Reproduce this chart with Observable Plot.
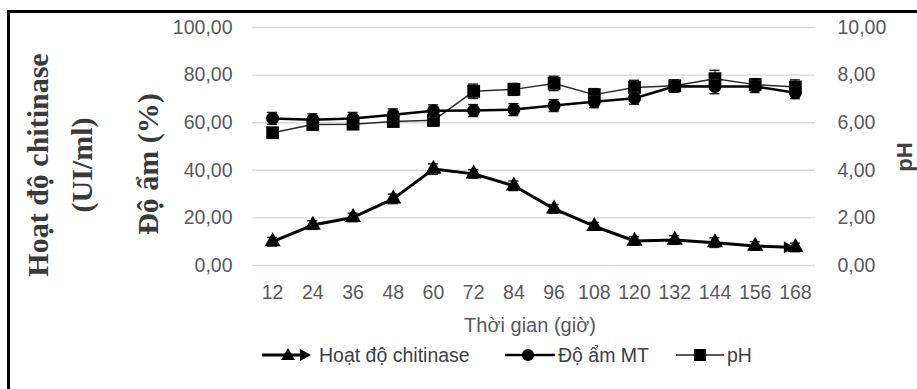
<!DOCTYPE html>
<html><head><meta charset="utf-8">
<script src="https://cdn.jsdelivr.net/npm/d3@7"></script>
<script src="https://cdn.jsdelivr.net/npm/@observablehq/plot@0.6"></script>
<style>
html,body{margin:0;padding:0;background:#fff;}
#wrap{position:relative;width:917px;height:389px;overflow:hidden;background:#fff;font-family:"Liberation Sans",Arial,sans-serif;}
#frame{position:absolute;left:7px;top:10px;width:1000px;height:1000px;border-left:3px solid #000;border-top:3px solid #000;}
.rot{position:absolute;white-space:nowrap;transform:translate(-50%,-50%) rotate(-90deg);}
.ttl{font-family:"Liberation Serif","Times New Roman",serif;font-weight:bold;font-size:30px;color:#3a3a3a;}
#xt{position:absolute;left:530px;top:325px;transform:translate(-50%,-50%);font-size:20px;color:#595959;white-space:nowrap;}
.leg{position:absolute;top:355px;transform:translateY(-50%);font-size:19.5px;color:#404040;white-space:nowrap;}
#plot{position:absolute;left:0;top:0;}
</style></head>
<body>
<div id="wrap">
  <div id="frame"></div>
  <div id="plot"></div>
  <div class="rot ttl" style="left:38px;top:165px;">Hoạt độ chitinase</div>
  <div class="rot ttl" style="left:82px;top:165px;">(UI/ml)</div>
  <div class="rot ttl" style="left:148px;top:164px;">Độ ẩm (%)</div>
  <div class="rot" style="left:905px;top:157px;font-weight:bold;font-size:22px;color:#404040;">pH</div>
  <div id="xt">Thời gian (giờ)</div>
  <svg id="legsw" width="917" height="389" style="position:absolute;left:0;top:0;pointer-events:none">
    <line x1="262" x2="302" y1="355" y2="355" stroke="#000" stroke-width="3"/>
    <path d="M288,348 L295,360 L281,360 Z" fill="#000"/>
    <path d="M300,349 L311,355 L300,361 Z" fill="#000"/>
    <line x1="505" x2="555" y1="355" y2="355" stroke="#000" stroke-width="2.5"/>
    <circle cx="528" cy="355" r="6" fill="#000"/>
    <line x1="676" x2="724" y1="355" y2="355" stroke="#222" stroke-width="1.5"/>
    <rect x="694" y="349" width="12" height="12" fill="#000"/>
  </svg>
  <div class="leg" style="left:319px;">Hoạt độ chitinase</div>
  <div class="leg" style="left:558px;">Độ ẩm MT</div>
  <div class="leg" style="left:727px;">pH</div>
</div>
<script>
const hours = [12,24,36,48,60,72,84,96,108,120,132,144,156,168];
const chitinase = [10.0,17.0,20.2,28.0,40.5,38.5,33.5,23.8,16.5,10.3,10.7,9.6,8.2,7.6];
const chitinaseErr = [1.8,1.8,1.8,2.0,2.2,1.8,2.0,1.8,1.6,1.8,1.8,2.0,1.8,1.8];
const moisture = [61.8,61.2,61.8,63.3,65.0,65.1,65.5,67.2,68.8,70.3,75.3,75.2,75.2,72.6];
const moistureErr = [2.5,2.5,2.5,2.5,2.5,2.5,2.5,2.5,2.5,2.5,2.5,3.0,2.5,2.5];
const pH = [5.58,5.92,5.94,6.05,6.10,7.32,7.40,7.65,7.18,7.48,7.55,7.85,7.60,7.50];
const pHErr = [0.20,0.20,0.22,0.22,0.25,0.30,0.25,0.30,0.25,0.30,0.25,0.35,0.25,0.30];
const leftTicks = [0,20,40,60,80,100];
const rightTicks = [0,2,4,6,8,10];

const fmt = v => v.toFixed(2).replace(".", ",");
const rows = hours.map((h,i) => ({
  h, c: chitinase[i], ce: chitinaseErr[i],
  m: moisture[i], me: moistureErr[i],
  p: pH[i] * 10, pe: pHErr[i] * 10
}));
const cap = 1.5;

function series(yk, ek, opts) {
  return [
    Plot.ruleX(rows, {x: "h", y1: d => d[yk] - d[ek], y2: d => d[yk] + d[ek], stroke: "#222", strokeWidth: 1.3}),
    Plot.ruleY(rows, {x1: d => d.h - cap, x2: d => d.h + cap, y: d => d[yk] + d[ek], stroke: "#222", strokeWidth: 1.5}),
    Plot.ruleY(rows, {x1: d => d.h - cap, x2: d => d.h + cap, y: d => d[yk] - d[ek], stroke: "#222", strokeWidth: 1.5}),
    Plot.line(rows, {x: "h", y: yk, stroke: opts.stroke, strokeWidth: opts.sw}),
    Plot.dot(rows, {x: "h", y: yk, symbol: opts.symbol, r: opts.r, fill: "#000", stroke: "none"})
  ];
}

const chart = Plot.plot({
  width: 917, height: 310,
  marginLeft: 252, marginRight: 102, marginTop: 27, marginBottom: 45,
  style: {fontFamily: "'Liberation Sans', Arial, sans-serif", fontSize: "19.5px", color: "#595959", background: "transparent"},
  x: {type: "linear", domain: [6, 174]},
  y: {domain: [0, 100]},
  marks: [
    Plot.ruleY(leftTicks, {stroke: "#d9d9d9", strokeWidth: 1.4}),
    Plot.axisY(leftTicks, {anchor: "left", tickSize: 0, tickPadding: 20, tickFormat: fmt, label: null}),
    Plot.axisY(rightTicks.map(v => v * 10), {anchor: "right", tickSize: 0, tickPadding: 22, tickFormat: v => fmt(v / 10), label: null}),
    Plot.axisX(hours, {anchor: "bottom", tickSize: 0, tickPadding: 20, tickFormat: d => String(d), label: null}),
    ...series("p", "pe", {stroke: "#2a2a2a", sw: 1.5, symbol: "square", r: 7.2}),
    ...series("m", "me", {stroke: "#000", sw: 2.5, symbol: "circle", r: 6.5}),
    ...series("c", "ce", {stroke: "#000", sw: 3, symbol: "triangle", r: 6}),
    Plot.dot(rows.slice(-1), {x: "h", y: "c", symbol: "triangle", rotate: 90, r: 4.5, dx: -8, fill: "#000", stroke: "none"})
  ]
});
document.getElementById("plot").appendChild(chart);
</script>
</body></html>
